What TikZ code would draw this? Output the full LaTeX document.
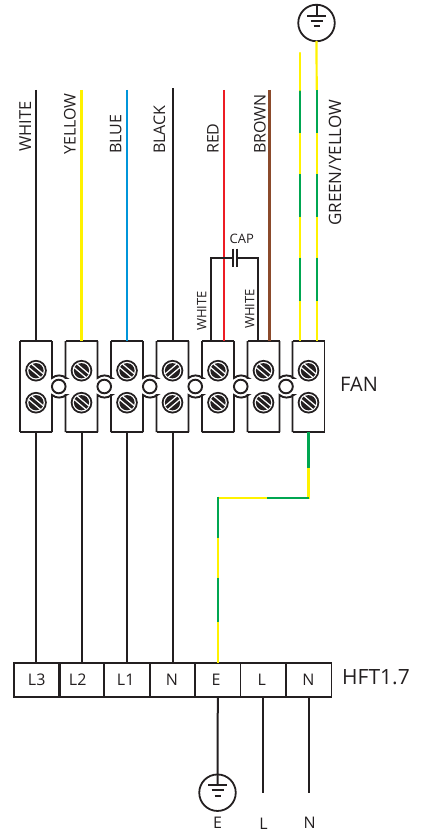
\documentclass[tikz,border=0pt]{standalone}
\usepackage{fontspec}
\setmainfont{Open Sans}
\definecolor{ink}{HTML}{231F20}
\definecolor{wyellow}{HTML}{FFF200}
\definecolor{wgreen}{HTML}{00A651}
\definecolor{wblue}{HTML}{0095DA}
\definecolor{wred}{HTML}{ED1C24}
\definecolor{wbrown}{HTML}{8B4A2B}
\tikzset{
 x=1pt,y=-1pt,
 wire/.style={line width=2pt,draw=ink},
 ywire/.style={line width=2.2pt,draw=wyellow},
 gwire/.style={line width=2.2pt,draw=wgreen},
 blockbox/.style={minimum width=32pt,minimum height=91pt,inner sep=0pt,outer sep=0pt},
 outline/.style={line width=1.9pt,draw=ink,line join=miter},
 cell/.style={draw=ink,line width=1.8pt,minimum width=45.4pt,minimum height=34.6pt,inner sep=0pt,outer sep=0pt},
 lab/.style={font=\fontsize{16}{18}\selectfont,text=ink,inner sep=0pt},
 vlab/.style={lab,rotate=90,anchor=west},
 smlab/.style={font=\fontsize{13}{15}\selectfont,text=ink,inner sep=0pt},
 biglab/.style={font=\fontsize{20}{22}\selectfont,text=ink,inner sep=0pt,anchor=west},
 pe/.style={circle,draw=ink,line width=1.8pt,minimum size=36.5pt,inner sep=0pt,outer sep=0pt},
 gbar/.style={line width=2pt,draw=ink},
}
\newcommand{\earthbars}[1]{%
 \draw[gbar] ($(#1)+(-9.5,-7.3)$) -- ($(#1)+(9.5,-7.3)$);
 \draw[gbar] ($(#1)+(-6,-2.3)$) -- ($(#1)+(6,-2.3)$);
 \draw[gbar] ($(#1)+(-3,3)$) -- ($(#1)+(3,3)$);
}
\newcommand{\screw}[3]{% x, y, angle
 \fill[ink] (#1,#2) circle (10.8);
 \fill[white] (#1,#2) circle (8.9);
 \fill[ink] (#1,#2) circle (7.6);
 \begin{scope}[shift={(#1,#2)},rotate=#3]
  \fill[white] (-7.6,-2.9) rectangle (7.6,2.9);
  \fill[ink] (-7.6,-1.5) rectangle (7.6,1.5);
 \end{scope}
}
\usetikzlibrary{calc}
\begin{document}
\begin{tikzpicture}
\useasboundingbox (0,0) rectangle (423,834);
% fan terminal blocks
\foreach \n/\cx in {1/36,2/81.5,3/127,4/172.5,5/218,6/263.5,7/308.5}{
 \node[blockbox] (b\n) at (\cx,386.5) {};
}
\foreach \n in {1,...,7}{
 \draw[outline] (b\n.north west) -- (b\n.north east);
 \draw[outline] (b\n.south west) -- (b\n.south east);
}
\draw[outline] (b1.north west) -- (b1.south west);
\draw[outline] (b7.north east) -- (b7.south east);
\foreach \a/\c in {1/2,2/3,3/4,4/5,5/6,6/7}{
 \coordinate (m) at ($(b\a.center)!0.5!(b\c.center)$);
 \draw[outline] (b\a.north east) -- (b\a.east |- 0,378) arc[start angle=230,end angle=310,radius=11] -- (b\c.west |- 0,378) -- (b\c.north west);
 \draw[outline] (b\a.south east) -- (b\a.east |- 0,395) arc[start angle=130,end angle=50,radius=11] -- (b\c.west |- 0,395) -- (b\c.south west);
 \draw[ink,line width=1.9pt,fill=white] (m) circle (6.8);
}
% screws
\foreach \cx/\at/\ab in {36/-40/-40,81.5/-40/-40,127/-40/-40,172.5/40/40,218/-40/-40,263.5/-40/-40,308.5/-40/-40}{
 \screw{\cx}{370.7}{\at}
 \screw{\cx}{402.7}{\ab}
}
% lower terminal strip
\node[cell] (s1) at (36.9,680) {};
\node[cell] (s2) at (81.7,680) {};
\node[cell] (s3) at (127,680) {};
\node[cell] (s4) at (172.5,680) {};
\node[cell] (s5) at (217.8,680) {};
\node[cell] (s6) at (263.2,680) {};
\node[cell] (s7) at (308.8,680) {};
\node[lab] (sl1) at (36.7,680) {L3};
\node[lab] (sl2) at (77.7,680) {L2};
\node[lab] (sl3) at (125.7,680) {L1};
\node[lab] (sl4) at (172,680) {N};
\node[lab] (sl5) at (216,680) {E};
\node[lab] (sl6) at (261.7,680) {L};
\node[lab] (sl7) at (308.3,680) {N};
% upper wire ends
\coordinate (t1) at (36,90);
\coordinate (t2) at (81.5,90);
\coordinate (t3) at (127,90);
\coordinate (t4) at (172.5,88.5);
\coordinate (t5) at (224,90);
\coordinate (t6) at (269.5,90);
\draw[wire] (t1) -- (t1 |- b1.north);
\draw[ywire] (t2) -- (t2 |- b2.north);
\draw[ywire,draw=wblue] (t3) -- (t3 |- b3.north);
\draw[wire] (t4) -- (t4 |- b4.north);
\draw[ywire,draw=wred] (t5) -- (t5 |- b5.north);
\draw[ywire,draw=wbrown] (t6) -- (t6 |- b6.north);
% capacitor
\coordinate (c1) at (233.3,258);
\coordinate (c2) at (237.3,258);
\draw[wire] (210.7,341) |- (c1);
\draw[wire] (258,341) |- (c2);
\draw[wire] (233.3,248.7) -- (233.3,267.3);
\draw[wire] (237.3,248.7) -- (237.3,267.3);
% earth top
\node[pe] (pet) at (316.5,23) {};
\earthbars{pet}
\draw[gbar] (pet.north) -- ($(pet.center)+(0,-7.3)$);
% green/yellow upper pair
\foreach \wx in {300.3,316.7}{
 \foreach \ya/\yb/\st in {90/133.3/gwire,133.3/174/ywire,174/216.7/gwire,216.7/257.7/ywire,257.7/301/gwire,301/341/ywire}{
  \draw[\st] (\wx,\ya) -- (\wx,\yb);
 }
}
\draw[ywire,line cap=round] (300.3,53) -- (300.3,90);
\draw[ywire] (pet.south) -- (316.7,90);
% lower bus
\foreach \ya/\yb/\st in {432/467.7/gwire,467.7/498.8/ywire}{
 \draw[\st] (b7.south |- 0,\ya) -- (b7.south |- 0,\yb);
}
\draw[gwire] (b7.south |- 0,497.7) -- (266.7,497.7);
\draw[ywire] (266.7,497.7) -- (s5.north |- 0,497.7);
\foreach \ya/\yb/\st in {496.6/537.7/gwire,537.7/577.7/ywire,577.7/621.7/gwire,621.7/662.7/ywire}{
 \draw[\st] (s5.north |- 0,\ya) -- (s5.north |- 0,\yb);
}
% wires between blocks and strip
\draw[wire] (b1.south) -- (b1.south |- s1.north);
\draw[wire] (b2.south) -- (b2.south |- s2.north);
\draw[wire] (b3.south) -- (s3.north);
\draw[wire] (b4.south) -- (s4.north);
% bottom
\node[pe] (peb) at (217.5,792.7) {};
\earthbars{peb}
\draw[wire] (s5.south) -- ($(peb.center)+(0,-7.3)$);
\coordinate (eL) at (263.2,793.3);
\coordinate (eN) at (308.8,793.3);
\draw[wire] (s6.south) -- (eL);
\draw[wire] (s7.south) -- (eN);
% labels
\node[vlab,font=\fontsize{16.5}{18}\selectfont] (lw) at (25.3,152) {WHITE};
\node[vlab] (ly) at (70,155) {YELLOW};
\node[vlab] (lb) at (115.7,154) {BLUE};
\node[vlab] (lk) at (159.3,154) {BLACK};
\node[vlab] (lr) at (213,154) {RED};
\node[vlab] (lbr) at (260,154) {BROWN};
\node[vlab,font=\fontsize{17}{19}\selectfont] (lg) at (335,226) {GREEN/YELLOW};
\node[smlab,rotate=90,anchor=west] (lw1) at (201.7,331) {WHITE};
\node[smlab,rotate=90,anchor=west] (lw2) at (249.7,329) {WHITE};
\node[smlab] (lc) at (241.7,239.3) {CAP};
\node[biglab] (lf) at (340,384) {FAN};
\node[biglab,font=\fontsize{21}{23}\selectfont] (lh) at (342,676.7) {HFT1.7};
\node[lab] (le) at (217.5,823) {E};
\node[lab] (ll) at (263.5,824) {L};
\node[lab] (ln) at (309.7,823) {N};
\end{tikzpicture}
\end{document}
